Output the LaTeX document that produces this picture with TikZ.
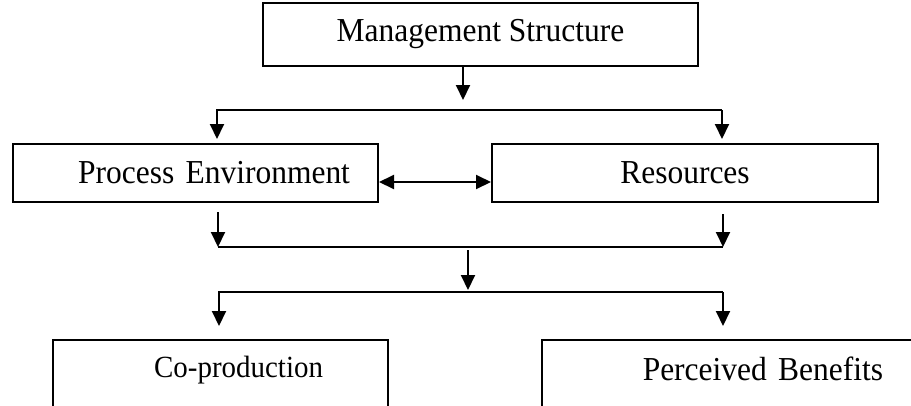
\documentclass[tikz,border=0pt]{standalone}
\usepackage{fontspec}
\setmainfont{Liberation Serif}
\newfontfamily\tallfont[FakeStretch=0.94]{Liberation Serif}
\usetikzlibrary{arrows.meta}
\tikzset{
    factor/.style = {rectangle,fill=none,draw=black,text=black,line width=2pt,inner ysep=0pt,
                     font=\tallfont\fontsize{33.5}{40}\selectfont},
    outcome/.style = {factor,align=right,text height=37pt,text depth=60pt,
                      font=\tallfont\fontsize{30.8}{37}\selectfont},
    >={Triangle[length=15pt,width=14pt]}
}
\begin{document}
\begin{tikzpicture}[x=1pt,y=-1pt,line width=2pt]
        \useasboundingbox (0,0) rectangle (911,405);
        \clip (0,0) rectangle (911,405);

        %% Boxes
        \node[factor,minimum width=435pt,minimum height=63pt]  (mgmt) at (480.5,34.5)  {Management Structure};
        \node[factor,minimum height=58pt,align=right,text width=309pt,inner xsep=28pt]  (proc) [below of=mgmt,node distance=138.5pt,xshift=-285pt]  {Process Environment};
        \node[factor,minimum width=386pt,minimum height=58pt]  (res) [right of=proc,node distance=489.5pt]  {Resources};
        \node[outcome,text width=205pt,inner xsep=65pt]  (cop) [below of=proc,node distance=215.5pt,xshift=25pt]  {Co-production};
        \node[outcome,text width=284pt,inner xsep=57pt,text height=40pt,text depth=57pt,
              font=\tallfont\fontsize{33.5}{40}\selectfont]  (perc) [below of=res,node distance=215.5pt,xshift=56pt]  {Perceived Benefits};

        %% Junctions
        \coordinate (t0) at (463,100);
        \coordinate (tl) at (217,110);
        \coordinate (tr) at (722,110);
        \coordinate (ml) at (218,247);
        \coordinate (mr) at (723,247);
        \coordinate (mc) at (468,247);
        \coordinate (bl) at (219,292);
        \coordinate (br) at (723,292);

        %% Management -> Process / Resources
        \draw[->] (mgmt.south -| t0) -- (t0);
        \draw[->,shorten >=4pt] (tr) -- (tl) -- (tl |- proc.north);
        \draw[->,shorten >=4pt] (tr) -- (tr |- res.north);
        \draw[<->] ([yshift=-9pt]proc.east) -- ([yshift=-9pt]res.west);

        %% Process / Resources -> outcomes
        \draw[->,shorten <=9pt] (proc.south -| ml) -- (ml);
        \draw[->,shorten <=11pt] (res.south -| mr) -- (mr);
        \draw (ml) -- (mr);
        \draw[->,shorten <=3pt,shorten >=2pt] (mc) -- (mc |- bl);
        \draw[->,shorten >=13pt] (br) -- (bl) -- (bl |- cop.north);
        \draw[->,shorten >=13pt] (br) -- (br |- perc.north);
\end{tikzpicture}
\end{document}
